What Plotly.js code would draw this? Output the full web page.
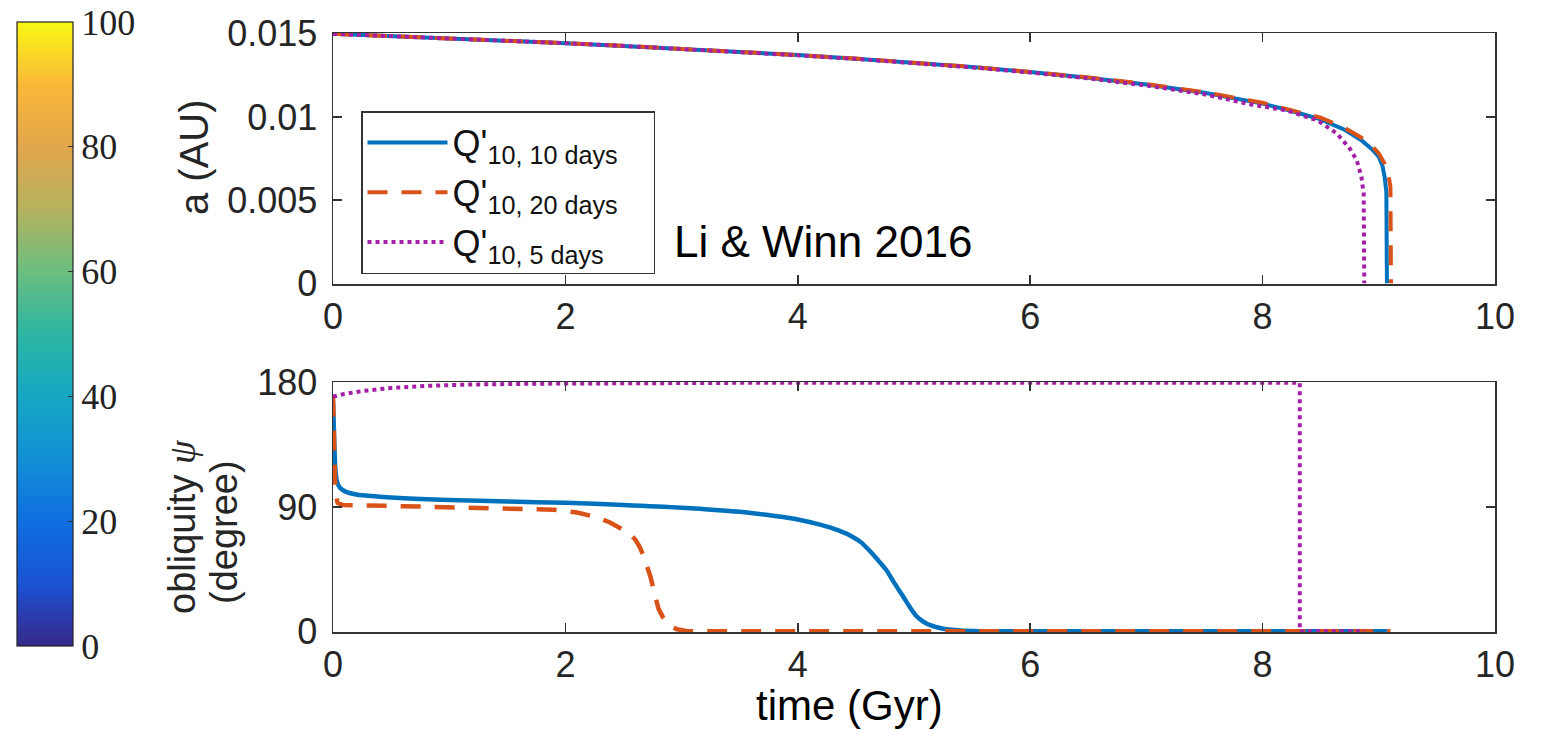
<!DOCTYPE html>
<html><head><meta charset="utf-8">
<script src="https://cdn.plot.ly/plotly-3.0.1.min.js"></script>
<style>html,body{margin:0;padding:0;background:#fff;}#chart{width:1542px;height:731px;}</style>
</head><body><div id="chart"></div>
<script>
// ---- data ----
const seriesNames = ["Q'<sub>10, 10 days</sub>\u00A0\u00A0\u00A0", "Q'<sub>10, 20 days</sub>\u00A0\u00A0\u00A0", "Q'<sub>10, 5 days</sub>\u00A0\u00A0\u00A0"];

// semi-major axis a (AU) vs time (Gyr)
const tA10 = [0,0.5,1,1.5,2,2.5,3,3.5,4,4.5,5,5.5,6,6.5,7,7.5,8,8.25,8.5,8.7,8.85,8.95,9.0,9.03,9.05,9.065,9.07];
const a10  = [0.01500,0.01487,0.01473,0.01459,0.01444,0.01427,0.01410,0.01392,0.01372,0.01350,0.01326,0.01300,0.01270,0.01236,0.01195,0.01145,0.01080,0.01036,0.00985,0.00925,0.00860,0.00800,0.00760,0.00710,0.00640,0.00550,0];
const tA20 = [0,0.5,1,1.5,2,2.5,3,3.5,4,4.5,5,5.5,6,6.5,7,7.5,8,8.25,8.5,8.7,8.85,8.95,9.0,9.05,9.08,9.1,9.105];
const a20  = [0.01500,0.01487,0.01473,0.01459,0.01444,0.01428,0.01411,0.01392,0.01372,0.01351,0.01327,0.01301,0.01271,0.01238,0.01198,0.01149,0.01085,0.01043,0.00995,0.00937,0.00875,0.00818,0.00780,0.00720,0.00660,0.00580,0];
const tA5  = [0,0.5,1,1.5,2,2.5,3,3.5,4,4.5,5,5.5,6,6.5,7,7.5,7.9,8.2,8.47,8.64,8.75,8.81,8.85,8.87,8.875];
const a5   = [0.01500,0.01487,0.01473,0.01459,0.01444,0.01427,0.01410,0.01391,0.01371,0.01349,0.01324,0.01298,0.01267,0.01232,0.01189,0.01136,0.01075,0.01040,0.00980,0.00900,0.00810,0.00740,0.00640,0.00540,0];

// obliquity psi (degree) vs time (Gyr)
const tPsi10 = [0,0.01,0.02,0.035,0.06,0.1,0.2,0.4,0.7,1.0,1.5,2.0,2.5,3.0,3.5,3.8,4.0,4.2,4.35,4.47,4.55,4.61,4.68,4.76,4.83,4.9,4.96,5.02,5.07,5.12,5.18,5.25,5.32,5.4,5.5,5.6,9.07];
const psi10  = [167,140,118,108,104,101.5,99,97.5,96,95,94,93,91.5,89.5,86.5,83.5,81,77,73,68.5,64,59,52.5,44.5,35,26,18,11,7.5,5,3.2,1.8,1.0,0.5,0.2,0,0];
const tPsi20 = [0,0.005,0.01,0.02,0.04,0.08,0.5,1.0,1.5,1.9,2.1,2.25,2.38,2.5,2.55,2.6,2.64,2.67,2.7,2.73,2.76,2.8,2.84,2.9,2.96,3.05,9.1];
const psi20  = [170,150,125,100,93,91.5,90.8,90,89,88,86,83,79,74,71,66.5,61,55,48,40,30,16.5,10,4,1.4,0,0];
const tPsi5  = [0,0.1,0.25,0.5,0.8,1.2,1.8,2.5,3.5,8.32,8.32,8.88];
const psi5   = [170,172,174,176.3,177.8,178.8,179.4,179.8,180,180,0,0];

// ticks
const cbTicks = [0,20,40,60,80,100];
const xTicks = [0,2,4,6,8,10];
const aTicks = [0,0.005,0.01,0.015];
const aTickText = ['0','0.005','0.01','0.015'];
const psiTicks = [0,90,180];

// ---- styles ----
const C10 = '#0072BD', C20 = '#D95319', C5 = '#A21FA6';
const W = 1542, H = 731;
const px = v => v / W, py = v => 1 - v / H;
const SANS = 'Liberation Sans, Arial, sans-serif';
const tickFont = {family: SANS, size: 36, color: '#262626'};
const parula = [[0,'#352a87'],[0.05,'#2b3cae'],[0.1,'#1a52d4'],[0.2,'#0f6fdf'],[0.3,'#128fd6'],[0.4,'#16a7c4'],[0.5,'#2cb6a2'],[0.6,'#6cbe80'],[0.7,'#b5b25e'],[0.8,'#e2a64c'],[0.9,'#fab838'],[1,'#f8f814']];

const traces = [
  {x: tA10, y: a10, name: seriesNames[0], mode: 'lines', line: {color: C10, width: 4}, xaxis: 'x', yaxis: 'y', legendgroup: 'a'},
  {x: tA20, y: a20, name: seriesNames[1], mode: 'lines', line: {color: C20, width: 4, dash: '20px,14px'}, xaxis: 'x', yaxis: 'y', legendgroup: 'b'},
  {x: tA5, y: a5, name: seriesNames[2], mode: 'lines', line: {color: C5, width: 4, dash: '4px,4px'}, xaxis: 'x', yaxis: 'y', legendgroup: 'c'},
  {x: tPsi10, y: psi10, name: seriesNames[0], mode: 'lines', line: {color: C10, width: 4.5, shape: 'spline', smoothing: 0.8}, xaxis: 'x2', yaxis: 'y2', showlegend: false, legendgroup: 'a'},
  {x: tPsi20, y: psi20, name: seriesNames[1], mode: 'lines', line: {color: C20, width: 4.5, dash: '20px,14px'}, xaxis: 'x2', yaxis: 'y2', showlegend: false, legendgroup: 'b'},
  {x: tPsi5, y: psi5, name: seriesNames[2], mode: 'lines', line: {color: C5, width: 4, dash: '4px,4px'}, xaxis: 'x2', yaxis: 'y2', showlegend: false, legendgroup: 'c'},
  {x: [null], y: [null], mode: 'markers', xaxis: 'x', yaxis: 'y', showlegend: false, hoverinfo: 'skip',
   marker: {color: [0], cmin: 0, cmax: 100, colorscale: parula, showscale: true,
     colorbar: {x: px(17), xanchor: 'left', y: py(22), yanchor: 'top', len: 624, lenmode: 'pixels',
       thickness: 56, thicknessmode: 'pixels', xpad: 0, ypad: 0, outlinewidth: 1.2, outlinecolor: '#222',
       ticks: 'inside', ticklen: 5, tickcolor: '#333', tickvals: cbTicks,
       tickfont: {family: 'Liberation Serif, Times New Roman, serif', size: 36, color: '#222'}}}}
];

const axCommon = {showline: true, linecolor: '#333', linewidth: 1.5, mirror: 'ticks', ticks: 'inside', ticklen: 9,
  tickcolor: '#333', tickwidth: 1.5, showgrid: false, zeroline: false, tickfont: tickFont, automargin: false, fixedrange: true};

const layout = {
  width: W, height: H, margin: {l: 0, r: 0, t: 0, b: 0}, paper_bgcolor: '#fff', plot_bgcolor: '#fff',
  showlegend: true,
  xaxis: Object.assign({}, axCommon, {domain: [px(333), px(1495)], range: [0, 10], tickvals: xTicks, anchor: 'y'}),
  yaxis: Object.assign({}, axCommon, {domain: [py(284), py(33)], range: [-0.00005, 0.01505], tickvals: aTicks, ticktext: aTickText, anchor: 'x', ticklabelstandoff: 7}),
  xaxis2: Object.assign({}, axCommon, {domain: [px(333), px(1495)], range: [0, 10], tickvals: xTicks, anchor: 'y2'}),
  yaxis2: Object.assign({}, axCommon, {domain: [py(632), py(382)], range: [-0.6, 180.6], tickvals: psiTicks, anchor: 'x2', ticklabelstandoff: 7}),
  legend: {x: px(361), y: py(111), xanchor: 'left', yanchor: 'top', bgcolor: '#fff', bordercolor: '#333', borderwidth: 1.5,
    font: {family: SANS, size: 36, color: '#111'}, itemwidth: 80, tracegroupgap: 0},
  annotations: [
    {text: 'Li &amp; Winn 2016', xref: 'paper', yref: 'paper', x: px(823), y: py(241), xanchor: 'center', yanchor: 'middle', showarrow: false,
     font: {family: SANS, size: 44, color: '#000'}},
    {text: 'a (AU)', xref: 'paper', yref: 'paper', x: px(194), y: py(157), xanchor: 'center', yanchor: 'middle', showarrow: false, textangle: -90,
     font: {family: SANS, size: 40, color: '#262626'}},
    {text: 'obliquity <i><span style="font-family:Liberation Serif">\u03C8</span></i>', xref: 'paper', yref: 'paper', x: px(182), y: py(527), xanchor: 'center', yanchor: 'middle', showarrow: false, textangle: -90,
     font: {family: SANS, size: 38, color: '#262626'}},
    {text: '(degree)', xref: 'paper', yref: 'paper', x: px(224), y: py(532), xanchor: 'center', yanchor: 'middle', showarrow: false, textangle: -90,
     font: {family: SANS, size: 38, color: '#262626'}},
    {text: 'time (Gyr)', xref: 'paper', yref: 'paper', x: px(849), y: py(705), xanchor: 'center', yanchor: 'middle', showarrow: false,
     font: {family: SANS, size: 42, color: '#000'}}
  ]
};

Plotly.newPlot('chart', traces, layout, {staticPlot: true, displayModeBar: false});
</script>
</body></html>
